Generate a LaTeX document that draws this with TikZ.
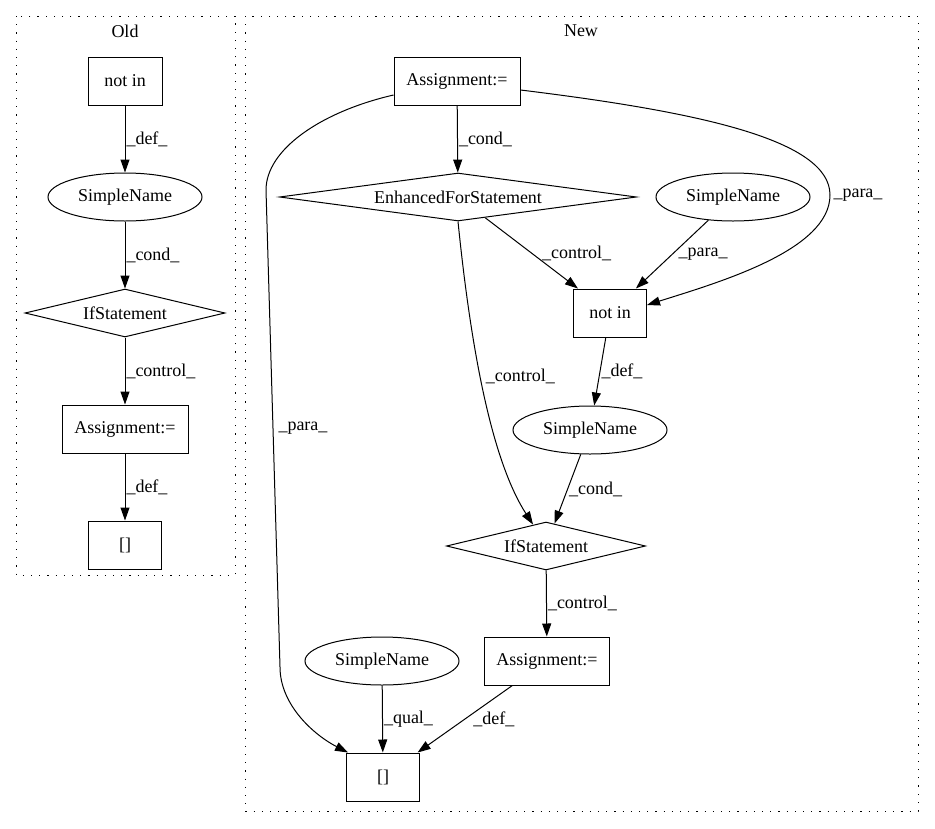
\documentclass[tikz,border=0pt]{standalone}
\usepackage{fontspec}
\setmainfont{Liberation Serif}
\usetikzlibrary{shapes.geometric,arrows.meta}

\begin{document}
\begin{tikzpicture}[x=1pt,y=-1pt,line width=1pt,
  every node/.style={font=\fontsize{18}{21}\selectfont},
  box/.style={draw, rectangle, inner sep=0pt, minimum height=48pt},
  oval/.style={draw, ellipse, inner sep=0pt, minimum width=154pt, minimum height=48pt},
  decision/.style={draw, diamond, inner sep=0pt, shape aspect=7, minimum height=48pt},
  lbl/.style={right, inner sep=1pt},
  flow/.style={-{Triangle[length=13pt,width=9pt]}},
  cluster/.style={draw, dash pattern=on 1.2pt off 7pt}]
  \useasboundingbox (0,0) rectangle (935,828);

  % clusters
  \draw[cluster] (16,16) rectangle (235,575);
  \draw[cluster] (245,16) rectangle (918,811);
  \node (oldtitle) at (125,31) {Old};
  \node (newtitle) at (581,31) {New};

  % old version
  \node[box, minimum width=74pt] (oldnotin) at (125,81) {not in};
  \node[oval] (oldname) at (125,197) {SimpleName};
  \node[decision, minimum width=200pt] (oldif) at (125,313) {IfStatement};
  \node[box, minimum width=126pt] (oldassign) at (125,429) {Assignment:=};
  \node[box, minimum width=73pt] (oldarr) at (125,545) {[]};

  \draw[flow] (oldnotin) -- node[lbl] {\_def\_} (oldname);
  \draw[flow] (oldname) -- node[lbl] {\_cond\_} (oldif);
  \draw[flow] (oldif) -- node[lbl] {\_control\_} (oldassign);
  \draw[flow] (oldassign) -- node[lbl] {\_def\_} (oldarr);

  % new version
  \node[box, minimum width=126pt] (newassign) at (457,81) {Assignment:=};
  \node[decision, minimum width=357pt] (newfor) at (458,197) {EnhancedForStatement};
  \node[oval] (paraname) at (733,197) {SimpleName};
  \node[box, minimum width=73pt] (newnotin) at (610,313) {not in};
  \node[oval] (newname) at (590,430) {SimpleName};
  \node[decision, minimum width=199pt] (newif) at (546,546) {IfStatement};
  \node[box, minimum width=125pt] (newassign2) at (547,661) {Assignment:=};
  \node[oval] (qualname) at (382,661) {SimpleName};
  \node[box, minimum width=73pt] (newarr) at (383,777) {[]};

  \draw[flow] (newassign) -- node[lbl] {\_cond\_} (newfor);
  \draw[flow] ([yshift=-9pt]newassign.east) .. controls (700,112) and (830,140) .. (830,195)
    node[lbl, xshift=2pt] {\_para\_} .. controls (830,250) and (720,282) .. ([yshift=8pt]newnotin.east);
  \draw[flow] ([yshift=-14pt]newassign.west) .. controls (320,112) and (266,150) .. (266,190)
    -- node[lbl, xshift=4pt] {\_para\_} (280,667) .. controls (280,705) and (314,735) .. ([xshift=2pt]newarr.north west);
  \draw[flow] (newfor) -- node[lbl, xshift=9pt] {\_control\_} (newnotin);
  \draw[flow] (paraname) -- node[lbl, xshift=5pt] {\_para\_} (newnotin);
  \draw[flow] (newfor.south) .. controls (470,340) and (490,458) .. node[lbl, pos=0.45, xshift=4pt] {\_control\_} ([xshift=-13pt,yshift=-3pt]newif.north);
  \draw[flow] (newnotin) -- node[lbl] {\_def\_} (newname);
  \draw[flow] (newname) -- node[lbl] {\_cond\_} (newif);
  \draw[flow] (newif) -- node[lbl] {\_control\_} (newassign2);
  \draw[flow] (qualname) -- node[lbl] {\_qual\_} (newarr);
  \draw[flow] (newassign2) -- node[lbl, xshift=7pt] {\_def\_} (newarr);

\end{tikzpicture}
\end{document}
